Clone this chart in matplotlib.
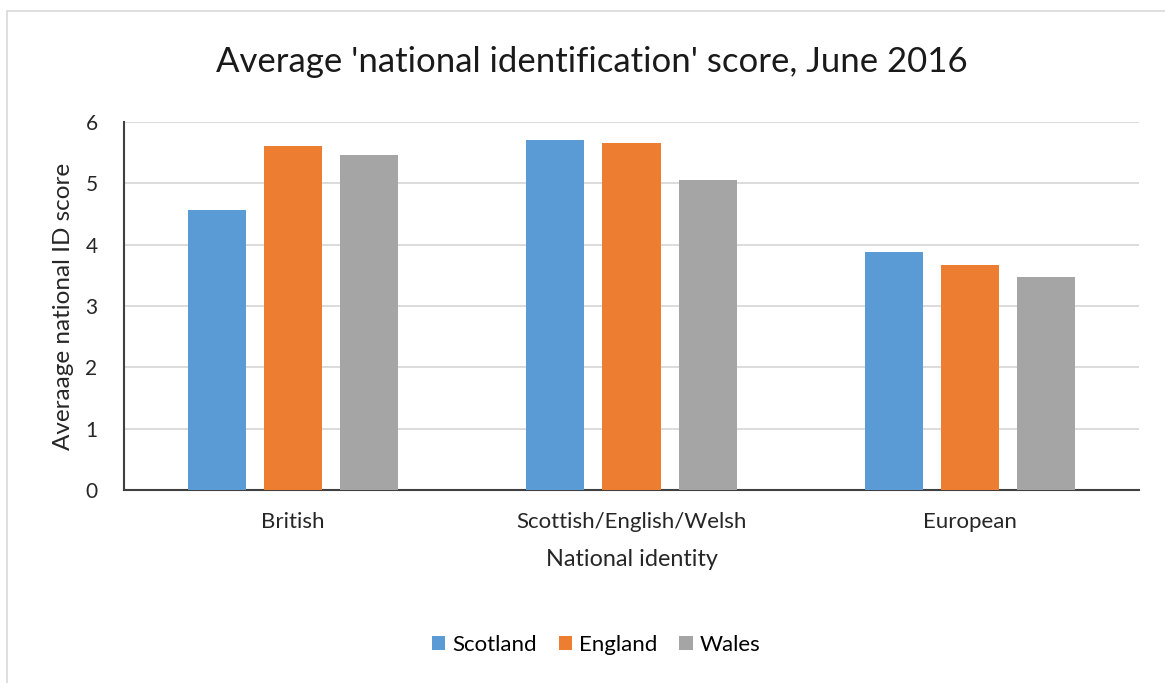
import matplotlib

matplotlib.use('Agg')
import matplotlib.pyplot as plt
import numpy
from matplotlib.patches import Rectangle

categories = ['British', 'Scottish/English/Welsh', 'European']
countries = ['Scotland', 'England', 'Wales']
scotland = [4.57, 5.71, 3.88]
england = [5.61, 5.65, 3.67]
wales = [5.46, 5.06, 3.48]
colours = ['#5B9BD5', '#ED7D31', '#A5A5A5']

plt.rcParams['font.family'] = ['Lato', 'DejaVu Sans']

fig = plt.figure(figsize=(11.65, 6.83), dpi=100)
ax = fig.add_axes([124 / 1165, 1 - 490 / 683, 1015 / 1165, 368 / 683])

x = numpy.arange(len(categories))
width = 0.172
step = 0.225
for i, (vals, name) in enumerate(zip([scotland, england, wales], countries)):
    ax.bar(x + (i - 1) * step, vals, width, color=colours[i], label=name, zorder=3)

ax.set_xlim(-0.5, 2.5)
ax.set_ylim(0, 6)
ax.set_yticks(numpy.arange(0, 7, 1))
ax.set_xticks(x)
ax.set_xticklabels(categories, fontsize=16, color='#262626')
ax.tick_params(axis='y', labelsize=15, colors='#262626', length=0, pad=19)
ax.tick_params(axis='x', length=0, pad=16)
ax.grid(axis='y', color='#d9d9d9', linewidth=1.3, zorder=0)

for s in ['top', 'right']:
    ax.spines[s].set_visible(False)
ax.spines['left'].set_color('#404040')
ax.spines['bottom'].set_color('#404040')
ax.spines['left'].set_linewidth(1.5)
ax.spines['bottom'].set_linewidth(1.5)

ax.set_ylabel('Averaage national ID score', fontsize=17.5, color='#262626', labelpad=8)
ax.set_xlabel('National identity', fontsize=16.8, color='#262626', labelpad=12)

fig.text(592 / 1165, 1 - 62 / 683, "Average 'national identification' score, June 2016",
         fontsize=25, ha='center', va='center', color='#1a1a1a')

fig.legend(loc='center', bbox_to_anchor=(596 / 1165, 1 - 645 / 683), ncol=3, frameon=False,
           fontsize=16, handlelength=0.6, handleheight=0.6, handletextpad=0.3, columnspacing=1.0)

# chart area border (only top/left visible in the picture)
fig.patches.append(Rectangle((7 / 1165, -0.1), 1.2, 1 - 11 / 683 + 0.1, transform=fig.transFigure,
                             fill=False, edgecolor='#d9d9d9', linewidth=1.2))

plt.savefig('out.png', dpi=100)
